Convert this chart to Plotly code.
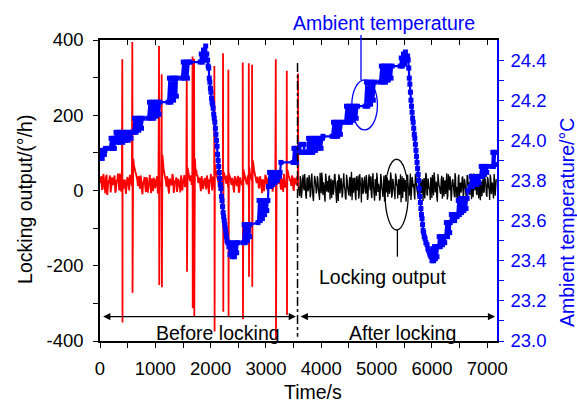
import plotly.graph_objects as go

FONT = "Liberation Sans, Arial, sans-serif"

# ---------------- axes ----------------
time_ticks = [0, 1000, 2000, 3000, 4000, 5000, 6000, 7000]
time_minor = [500, 1500, 2500, 3500, 4500, 5500, 6500]
out_ticks = [-400, -200, 0, 200, 400]
out_tick_text = ["-400", "-200", "0", "200", "400"]
out_minor = [-300, -100, 100, 300]
temp_ticks = [23.0, 23.2, 23.4, 23.6, 23.8, 24.0, 24.2, 24.4]
temp_minor = [23.1, 23.3, 23.5, 23.7, 23.9, 24.1, 24.3]

# ---------------- locking output before locking (red) ----------------
red_step = 24  # s between samples of each sub-series
red_noise_a = [  # samples at i*24 s
    20, 38, 5, 30, -8, 42, 12, 28, -5, 35,
    15, 40, 2, 25, 18, 45, -3, 30, 10, 22,
    8, 33, 0, 28, 12, 85, 60, 45, 30, 38,
    5, 30, -10, 25, 12, 35, -6, 20, 8, 32,
    -2, 27, 15, 38, 0, 22, 10, 95, 55, 35,
    10, 30, -8, 26, 14, 36, 2, 24, -4, 31,
    12, 40, 0, 27, 9, 30, 60, 40, 25, 15,
    100, 75, 50, 38, 20, 34, -2, 26, 11, 33,
    3, 29, -9, 24, 16, 37, 8, 55, 40, 25,
    10, 32, 5, 50, 38, 18, 30, 45, 35, 15,
    28, -5, 33, 12, 39, 0, 26, 14, 55, 40,
    24, 35, 8, 45, 30, 80, 55, 38, 20, 32,
    6, 28, -7, 25, 14, 37, 1, 23, 9, 30,
    -3, 26, 17, 45, 30, 22, 8, 31, -4, 27,
    10, 55, 40, 25, 12, 34, -1, 29, 15, 26,
]
red_noise_b = [  # samples at i*24 + 12 s
    30, 2, 44, 10, 36, -12, 25, 40, 8, 18,
    33, -6, 28, 45, 0, 24, 38, 4, 29, -9,
    35, 15, 42, 20, 110, 70, 52, 38, 12, 28,
    40, 0, 22, 36, -4, 30, 14, 42, -7, 20,
    34, 6, 29, -8, 40, 12, 20, 75, 45, 28,
    38, 2, 32, 16, 44, -6, 27, 35, 10, 22,
    -5, 30, 18, 41, 24, 70, 50, 30, 40, 20,
    90, 85, 55, 40, 30, 12, 38, 4, 28, 17,
    40, 10, 30, 44, 0, 26, 70, 48, 32, 14,
    36, 20, 28, 45, 30, 40, 8, 40, 25, 33,
    4, 38, 20, 30, -6, 35, 22, 20, 48, 30,
    16, 40, 60, 40, 25, 70, 45, 28, 36, 8,
    38, 15, 30, -2, 42, 20, 33, 6, 26, 40,
    12, 36, 20, 40, 18, 38, 2, 28, 44, 10,
    20, 50, 35, 30, 40, 6, 34, 20, 38, 5,
]
spike_time = [403, 584, 1067, 1115, 1568, 1672, 1700, 2067, 2224, 2320, 2580, 2689, 2748, 3177, 3376, 3580]
spike_up = [349, 395, 384, 309, 326, 356, 350, 331, 365, 321, 340, 338, 334, 349, 318, 311]
spike_down = [-351, -272, -251, -257, -216, -313, -335, -375, -322, -335, -342, -229, -256, -397, -331, 15]

# ---------------- locking output after locking (black) ----------------
black_start = 3590
black_step = 19.9  # s between samples of each sub-series
black_noise_a = [  # samples at start + i*step
    10, -15, 30, -5, 42, 0, 18, -22, 35, 5,
    25, -10, 45, -18, 12, 30, -8, 38, 2, -25,
    20, 48, -12, 15, -30, 33, 8, -5, 40, 12,
    -20, 28, 0, 44, -14, 22, -28, 36, 6, 18,
    -9, 46, 3, -24, 31, -2, 26, -16, 50, 10,
    -6, 34, -26, 14, 40, -11, 21, -32, 29, 4,
    37, -8, 16, -19, 43, 1, -13, 32, 9, -27,
    24, 47, -4, 11, -22, 35, -1, 19, -29, 41,
    7, -17, 27, 0, 39, -12, 23, -6, 45, 13,
    -21, 30, 5, -31, 38, 15, -3, 28, -15, 42,
    2, 20, -25, 36, 8, -10, 44, 17, -7, 31,
    -18, 26, 11, -28, 33, 0, 40, -13, 22, 6,
    35, -20, 14, 48, -5, 24, -30, 29, 10, -9,
    39, 3, -16, 27, 12, -24, 43, 1, 18, -11,
    30, -2, 46, -19, 9, 34, -27, 21, 5, 37,
    -8, 25, -14, 41, 13, -3, 32, -23, 16, 45,
    0, 28, -12, 36, 7, -26, 23, 11, -6, 38,
    15, -17, 31, 4, 42, -9, 19, -21, 27, 8,
]
black_noise_b = [  # samples at start + i*step + step/2
    -10, 38, -20, 26, 8, 44, -14, 30, -2, 41,
    -18, 34, 6, -28, 39, 16, 2, 29, -12, 47,
    -7, 30, 22, -16, 45, -3, 26, 37, -24, 31,
    9, -11, 40, 15, -33, 27, 43, -8, 33, -19,
    24, 12, -21, 42, 7, -13, 36, 20, -26, 34,
    28, -15, 38, 0, -22, 44, 11, 35, -9, 25,
    -3, 41, -25, 29, 14, 38, -20, 46, -10, 30,
    -14, 32, 18, -27, 44, 6, -17, 40, 12, -5,
    34, 20, -9, 48, -19, 31, 5, -23, 37, 16,
    27, -12, 43, 2, -20, 33, 24, -30, 36, 9,
    -14, 45, -6, 28, 18, -24, 39, 0, -16, 43,
    33, -7, 30, 20, -21, 47, -11, 32, 4, -25,
    24, 41, -13, 36, 0, -17, 44, 13, -4, 30,
    -22, 35, 21, -9, 46, -14, 28, 38, -28, 25,
    14, -18, 37, 7, -24, 42, 16, -6, 34, -20,
    31, 5, -26, 39, 22, -12, 45, 3, -18, 33,
    20, -9, 44, -21, 30, 12, -15, 40, -3, 27,
    -12, 36, 9, -25, 33, 21, -7, 44, -14, 30,
]

# ---------------- ambient temperature (blue) ----------------
temp_time = [
    0, 20, 40, 60, 80, 90, 100, 180,
    200, 220, 240, 260, 270, 290, 310, 335, 360, 385, 410, 435, 460, 485, 510, 535, 560, 580, 600,
    625, 650, 675, 700, 725, 750, 775, 870,
    895, 920, 945, 970, 995, 1020, 1045, 1070, 1085, 1230,
    1255, 1280, 1305, 1330, 1355, 1380, 1390, 1480,
    1505, 1530, 1555, 1580, 1605, 1630, 1810,
    1830, 1850, 1870, 1890, 1910, 1930,
    1945, 1955, 1965, 1975, 1985, 1995, 2005, 2015, 2025, 2035, 2045, 2055, 2065,
    2075, 2085, 2095, 2105, 2115, 2125, 2135, 2145, 2155, 2165, 2175, 2185, 2195,
    2205, 2215, 2225, 2235, 2245, 2255, 2265, 2275, 2285, 2295, 2310,
    2330, 2350, 2370, 2390, 2410, 2430, 2450, 2470, 2490, 2585,
    2605, 2625, 2645, 2665, 2685, 2705, 2710, 2855,
    2875, 2895, 2915, 2935, 2955, 2975, 2995, 3015, 3035,
    3045, 3065, 3085, 3105, 3125, 3145, 3165, 3185, 3205, 3225, 3245, 3255, 3270, 3490,
    3505, 3520, 3535, 3550, 3565, 3580, 3600, 3620, 3625, 3680, 3690, 3695, 3745,
    3770, 3795, 3820, 3845, 3870, 3895, 3920, 3945, 3970, 3995, 4020, 4030, 4195,
    4220, 4245, 4270, 4295, 4320, 4345, 4370, 4430,
    4455, 4480, 4505, 4530, 4555, 4580, 4605, 4630, 4655, 4790,
    4815, 4840, 4865, 4890, 4915, 4940, 4965, 5060,
    5085, 5110, 5135, 5160, 5185, 5210, 5235, 5260, 5280, 5425,
    5445, 5465, 5485, 5505, 5520, 5540, 5560,
    5570, 5580, 5590, 5600, 5610, 5620, 5630, 5640, 5650, 5660, 5670, 5680, 5690,
    5700, 5710, 5720, 5730, 5740, 5750, 5760, 5770, 5780, 5790, 5800, 5810, 5820,
    5830, 5840, 5850, 5860, 5875, 5890, 5910, 5925, 5940, 5955, 5965, 5980, 6000,
    6015, 6030, 6045, 6060, 6075, 6090, 6110,
    6130, 6150, 6170, 6190, 6210, 6230, 6240,
    6260, 6280, 6300, 6320, 6330, 6350, 6370, 6390, 6410, 6430, 6455,
    6475, 6495, 6515, 6535, 6555, 6575, 6595, 6615, 6635, 6650, 6690,
    6710, 6730, 6750, 6770, 6790, 6810, 6830, 6850, 6870,
    6890, 6910, 6930, 6950, 6970, 6990, 7000, 7090, 7100, 7110, 7120, 7130, 7140,
]
temp_value = [
    23.91, 23.95, 23.91, 23.95, 23.93, 23.95, 23.96, 23.96,
    24.01, 23.96, 24.01, 23.96, 24.01, 24.04, 23.99, 24.04, 23.99, 24.04, 23.99, 24.04, 24.00, 24.04, 24.00, 24.04, 24.01, 24.04, 24.04,
    24.11, 24.04, 24.11, 24.05, 24.11, 24.06, 24.11, 24.11,
    24.19, 24.11, 24.19, 24.11, 24.19, 24.12, 24.19, 24.13, 24.19, 24.19,
    24.31, 24.19, 24.31, 24.20, 24.31, 24.22, 24.31, 24.31,
    24.39, 24.31, 24.39, 24.31, 24.39, 24.39, 24.39,
    24.43, 24.39, 24.45, 24.40, 24.47, 24.43,
    24.40, 24.37, 24.36, 24.31, 24.29, 24.26, 24.24, 24.21, 24.19, 24.18, 24.16, 24.13, 24.11,
    24.09, 24.06, 24.03, 24.00, 23.97, 23.93, 23.90, 23.87, 23.84, 23.81, 23.78, 23.76, 23.72,
    23.70, 23.67, 23.64, 23.62, 23.60, 23.58, 23.56, 23.54, 23.52, 23.50, 23.49,
    23.47, 23.43, 23.49, 23.42, 23.48, 23.42, 23.49, 23.44, 23.49, 23.49,
    23.58, 23.49, 23.58, 23.50, 23.58, 23.52, 23.58, 23.59,
    23.70, 23.60, 23.70, 23.61, 23.70, 23.63, 23.70, 23.65, 23.70,
    23.77, 23.84, 23.77, 23.84, 23.78, 23.84, 23.79, 23.84, 23.80, 23.84, 23.82, 23.84, 23.89, 23.89,
    23.96, 23.89, 23.96, 23.89, 23.96, 23.94, 23.94, 23.98, 23.94, 23.94, 23.98, 23.94, 23.94,
    24.01, 23.94, 24.01, 23.94, 24.01, 23.95, 24.01, 23.96, 24.01, 23.96, 24.01, 24.02, 24.02,
    24.09, 24.02, 24.09, 24.02, 24.09, 24.03, 24.09, 24.09,
    24.17, 24.09, 24.17, 24.09, 24.17, 24.10, 24.17, 24.11, 24.17, 24.17,
    24.29, 24.17, 24.29, 24.18, 24.29, 24.20, 24.29, 24.29,
    24.37, 24.29, 24.37, 24.29, 24.37, 24.30, 24.37, 24.31, 24.37, 24.37,
    24.41, 24.37, 24.43, 24.38, 24.44, 24.40, 24.42,
    24.40, 24.36, 24.31, 24.28, 24.24, 24.20, 24.17, 24.14, 24.11, 24.09, 24.06, 24.03, 24.01,
    23.98, 23.95, 23.92, 23.89, 23.86, 23.83, 23.80, 23.76, 23.72, 23.69, 23.66, 23.63, 23.61,
    23.58, 23.55, 23.54, 23.52, 23.51, 23.49, 23.48, 23.46, 23.45, 23.44, 23.43, 23.42, 23.40,
    23.46, 23.40, 23.47, 23.41, 23.47, 23.42, 23.47,
    23.52, 23.47, 23.52, 23.48, 23.52, 23.49, 23.52,
    23.59, 23.52, 23.59, 23.54, 23.59, 23.63, 23.60, 23.63, 23.60, 23.63, 23.62,
    23.70, 23.63, 23.71, 23.64, 23.71, 23.65, 23.71, 23.66, 23.71, 23.75, 23.77,
    23.82, 23.77, 23.82, 23.78, 23.82, 23.78, 23.82, 23.79, 23.82,
    23.87, 23.82, 23.87, 23.83, 23.87, 23.84, 23.87, 23.87, 23.94, 23.87, 23.94, 23.88, 23.94,
]
assert len(temp_time) == len(temp_value)

# ---------------- build red series (noise + spikes) ----------------
red_pts = [(i * red_step, v) for i, v in enumerate(red_noise_a)]
red_pts += [(i * red_step + red_step / 2, v) for i, v in enumerate(red_noise_b)]
for t, up, dn in zip(spike_time, spike_up, spike_down):
    red_pts.append((t, up))
    red_pts.append((t + 4, dn))
red_pts.sort(key=lambda p: p[0])
red_x = [p[0] for p in red_pts]
red_y = [p[1] for p in red_pts]

# ---------------- build black series ----------------
black_pts = [(black_start + i * black_step, v) for i, v in enumerate(black_noise_a)]
black_pts += [(black_start + i * black_step + black_step / 2, v) for i, v in enumerate(black_noise_b)]
black_pts.sort(key=lambda p: p[0])
black_x = [p[0] for p in black_pts]
black_y = [p[1] for p in black_pts]

XMAX = 7175
BLUE = "#0000ff"

fig = go.Figure()
fig.add_trace(go.Scatter(x=red_x, y=red_y, mode="lines",
                         line=dict(color="#ff0000", width=1.8, simplify=False),
                         hoverinfo="skip"))
fig.add_trace(go.Scatter(x=black_x, y=black_y, mode="lines",
                         line=dict(color="black", width=1.3, simplify=False),
                         hoverinfo="skip"))
fig.add_trace(go.Scatter(x=temp_time, y=temp_value, mode="lines+markers", yaxis="y2",
                         line=dict(color=BLUE, width=2.2, simplify=False),
                         marker=dict(symbol="square", size=5, color=BLUE),
                         hoverinfo="skip"))
# invisible trace to activate the top axis
fig.add_trace(go.Scatter(x=[0], y=[0], xaxis="x2", mode="markers",
                         marker=dict(opacity=0), hoverinfo="skip"))

tickfont = dict(family=FONT, size=18.5, color="black")
titlefont = dict(family=FONT, size=19.5, color="black")

fig.update_layout(
    width=577, height=403,
    margin=dict(l=100, r=80, t=40, b=62, autoexpand=False),
    paper_bgcolor="white", plot_bgcolor="white",
    showlegend=False,
    font=dict(family=FONT, size=18.5, color="black"),
    xaxis=dict(
        range=[0, XMAX], tickmode="array", tickvals=time_ticks,
        ticks="outside", ticklen=5, tickwidth=1.2, tickcolor="black",
        showline=True, linewidth=1.5, linecolor="black",
        showgrid=False, zeroline=False, tickfont=tickfont, ticklabelstandoff=5,
        minor=dict(tickmode="array", tickvals=time_minor, ticks="outside",
                   ticklen=5, tickwidth=1.2, tickcolor="black", showgrid=False),
    ),
    xaxis2=dict(
        range=[0, XMAX], overlaying="x", side="top", anchor="y",
        tickmode="array", tickvals=time_ticks + time_minor,
        ticks="inside", ticklen=5, tickwidth=1.2, tickcolor="black",
        showticklabels=False, showline=True, linewidth=1.5, linecolor="black",
        showgrid=False, zeroline=False,
    ),
    yaxis=dict(
        range=[-400, 400], tickmode="array", tickvals=out_ticks, ticktext=out_tick_text,
        ticks="outside", ticklen=5, tickwidth=1.2, tickcolor="black",
        showline=True, linewidth=1.5, linecolor="black",
        showgrid=False, zeroline=False, tickfont=tickfont, ticklabelstandoff=6,
        minor=dict(tickmode="array", tickvals=out_minor, ticks="outside",
                   ticklen=5, tickwidth=1.2, tickcolor="black", showgrid=False),
    ),
    yaxis2=dict(
        range=[23.0, 24.5], overlaying="y", side="right", anchor="x",
        tickmode="array", tickvals=temp_ticks, tickformat=".1f",
        ticks="outside", ticklen=5, tickwidth=1.2, tickcolor=BLUE,
        showline=True, linewidth=1.5, linecolor=BLUE,
        showgrid=False, zeroline=False, ticklabelstandoff=3,
        tickfont=dict(family=FONT, size=18.5, color=BLUE),
        minor=dict(tickmode="array", tickvals=temp_minor, ticks="outside",
                   ticklen=5, tickwidth=1.2, tickcolor=BLUE, showgrid=False),
    ),
)

# ---------------- axis titles (placed as in the reference) ----------------
fig.add_annotation(x=0.536, y=-0.168, xref="paper", yref="paper",
                   xanchor="center", yanchor="middle", text="Time/s", borderpad=0,
                   showarrow=False, font=titlefont)
fig.add_annotation(x=-0.189, y=0.472, xref="paper", yref="paper",
                   xanchor="center", yanchor="middle", text="Locking output/(°/h)",
                   textangle=-90, showarrow=False, font=titlefont)
fig.add_annotation(x=1.176, y=0.395, xref="paper", yref="paper",
                   xanchor="center", yanchor="middle", text="Ambient temperature/°C",
                   textangle=-90, showarrow=False,
                   font=dict(family=FONT, size=19.5, color=BLUE))

# ---------------- annotations ----------------
ann_font = dict(family=FONT, size=19.5, color="black")
fig.add_annotation(x=5135, y=1.056, xref="x", yref="paper", yanchor="middle",
                   text="Ambient temperature", showarrow=False,
                   font=dict(family=FONT, size=19.5, color=BLUE))
fig.add_annotation(x=5099, y=-229, xref="x", yref="y", yanchor="middle",
                   text="Locking output", showarrow=False, font=ann_font)
fig.add_annotation(x=2124, y=-379, xref="x", yref="y", yanchor="middle",
                   text="Before locking", showarrow=False, font=ann_font)
fig.add_annotation(x=5469, y=-379, xref="x", yref="y", yanchor="middle",
                   text="After locking", showarrow=False, font=ann_font)
# double arrows
for x0, x1 in [(30, 3540), (3600, 7140)]:
    fig.add_annotation(x=x1, y=-335, ax=x0, ay=-335, xref="x", yref="y",
                       axref="x", ayref="y", text="", showarrow=True,
                       arrowhead=2, arrowside="end+start", arrowsize=1.2,
                       arrowwidth=1.2, arrowcolor="black", standoff=0, startstandoff=0)

# ellipses and leader lines
fig.add_shape(type="circle", xref="x", yref="y", x0=4551, x1=5014, y0=161, y1=294,
              line=dict(color=BLUE, width=1.3))
fig.add_shape(type="line", xref="paper", yref="paper", x0=0.6574, x1=0.6574,
              y0=0.867, y1=1.017, line=dict(color=BLUE, width=1.3))
fig.add_shape(type="circle", xref="x", yref="y", x0=5153, x1=5569, y0=-105, y1=83,
              line=dict(color="black", width=1.3))
fig.add_shape(type="line", xref="x", yref="y", x0=5375, x1=5375, y0=-105, y1=-176,
              line=dict(color="black", width=1.3))
# dash-dot separator
fig.add_shape(type="line", xref="x", yref="y", x0=3570, x1=3570, y0=339, y1=-389,
              line=dict(color="black", width=1.5, dash="dashdot"))

fig.write_html("out.html", config={"displayModeBar": False},
               post_script="document.body.style.margin='0';")
